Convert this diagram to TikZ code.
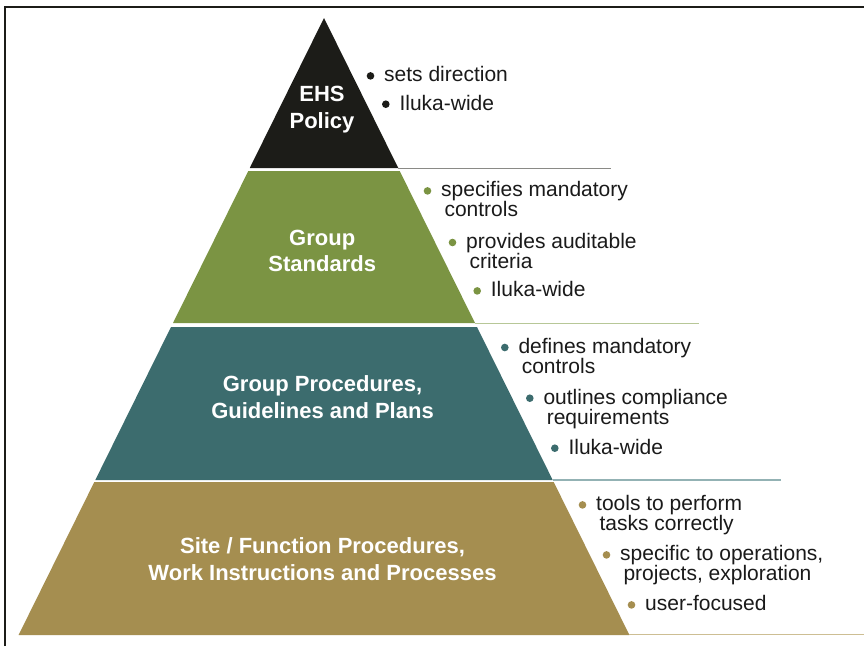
\documentclass[tikz,border=0pt]{standalone}
\usepackage{fontspec}
\setmainfont{Liberation Sans}
\definecolor{policyblack}{HTML}{1C1C18}
\definecolor{stdgreen}{HTML}{7B9443}
\definecolor{proteal}{HTML}{3C6C6E}
\definecolor{sitegold}{HTML}{A58E50}
\definecolor{rulegray}{HTML}{8A8A86}
\definecolor{rulegreen}{HTML}{B7C797}
\definecolor{ruleteal}{HTML}{93B2B4}
\definecolor{rulegold}{HTML}{CDBE93}
\definecolor{notetext}{HTML}{1A1A1A}
\begin{document}
\begin{tikzpicture}[x=1pt,y=-1pt,
  tiertext/.style={text=white, font=\bfseries\fontsize{22}{26.5}\selectfont,
    align=center, inner sep=0pt, anchor=base},
  note/.style={text=notetext, font=\fontsize{21}{20}\selectfont,
    align=left, inner sep=0pt, anchor=base west},
  tierrule/.style={line width=1.3pt},
  bulletdot/.style={fill=#1}]
\useasboundingbox (0,0) rectangle (864,646);
\fill[white] (0,0) rectangle (864,646);
% outer frame (left and top edges)
\draw[line width=1.5pt, policyblack] (5,646) -- (5,7) -- (864,7);

% pyramid corners
\coordinate (apex) at (324,18);
\coordinate (t1bl) at (249.75,168);  \coordinate (t1br) at (398.25,168);
\coordinate (t2tl) at (248.3,171);   \coordinate (t2tr) at (399.7,171);
\coordinate (t2bl) at (173.0,323);   \coordinate (t2br) at (475.0,323);
\coordinate (t3tl) at (171.0,327);   \coordinate (t3tr) at (477.0,327);
\coordinate (t3bl) at (95.3,480);    \coordinate (t3br) at (552.7,480);
\coordinate (t4tl) at (94.3,482);    \coordinate (t4tr) at (553.7,482);
\coordinate (t4bl) at (18.6,635);    \coordinate (t4br) at (629.4,635);

% tiers
\fill[policyblack] (apex) -- (t1br) -- (t1bl) -- cycle;
\fill[stdgreen] (t2tl) -- (t2tr) -- (t2br) -- (t2bl) -- cycle;
\fill[proteal] (t3tl) -- (t3tr) -- (t3br) -- (t3bl) -- cycle;
\fill[sitegold] (t4tl) -- (t4tr) -- (t4br) -- (t4bl) -- cycle;

% rules leading out from each tier
\coordinate (r1end) at (611,168.5);
\coordinate (r2end) at (699,323.5);
\coordinate (r3end) at (781,480);
\coordinate (r4end) at (864,634.5);
\draw[tierrule, rulegray]  (t1br |- r1end) -- (r1end);
\draw[tierrule, rulegreen] (t2br |- r2end) -- (r2end);
\draw[tierrule, ruleteal]  (t3br |- r3end) -- (r3end);
\draw[tierrule, rulegold]  (t4br |- r4end) -- (r4end);

% tier titles (placed at the baseline of their last line)
\node[tiertext] (policy) at (322,128.3) {EHS\\Policy};
\node[tiertext] (standards) at (322.2,271.7) {Group\\Standards};
\node[tiertext] (procedures) at (322.5,418.3) {Group Procedures,\\Guidelines and Plans};
\node[tiertext] (site) at (322.5,580) {Site / Function Procedures,\\Work Instructions and Processes};

% notes beside each tier (placed at the baseline of their last line)
\node[note] (n1a) at (384,81.7) {sets direction};
\node[note] (n1b) at (399.3,110) {Iluka-wide};
\node[note] (n2a) at (441,216.7) {specifies mandatory\\\hspace*{3.3pt}controls};
\node[note] (n2b) at (466,268.3) {provides auditable\\\hspace*{3.3pt}criteria};
\node[note] (n2c) at (490.7,296.7) {Iluka-wide};
\node[note] (n3a) at (518.3,373.3) {defines mandatory\\\hspace*{3.3pt}controls};
\node[note] (n3b) at (543.3,424) {outlines compliance\\\hspace*{3.3pt}requirements};
\node[note] (n3c) at (568.3,454) {Iluka-wide};
\node[note] (n4a) at (596,530.7) {tools to perform\\\hspace*{3.3pt}tasks correctly};
\node[note] (n4b) at (620,580.7) {specific to operations,\\\hspace*{3.3pt}projects, exploration};
\node[note] (n4c) at (645,610.7) {user-focused};

% bullets, level with the first line of each note
\foreach \n/\c/\up in {n1a/policyblack/0, n1b/policyblack/0,
                       n2a/stdgreen/20, n2b/stdgreen/20, n2c/stdgreen/0,
                       n3a/proteal/20, n3b/proteal/20, n3c/proteal/0,
                       n4a/sitegold/20, n4b/sitegold/20, n4c/sitegold/0}
  \fill[bulletdot=\c] (\n.base west) ++(-13.5,-5.8-\up) circle[radius=3.8pt];
\end{tikzpicture}
\end{document}
